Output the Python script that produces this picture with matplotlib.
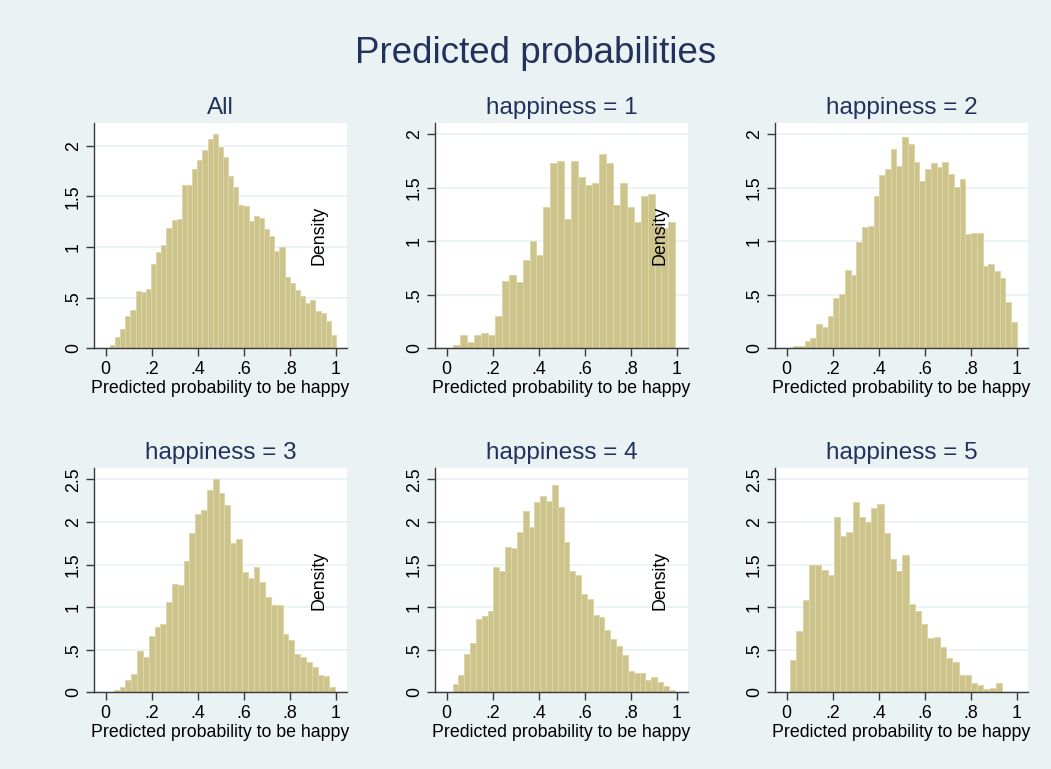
import matplotlib
matplotlib.use("Agg")
import matplotlib.pyplot as plt
import numpy as np

plt.rcParams['font.family'] = ['Liberation Sans', 'DejaVu Sans']

# density heights, left to right
h_all = [0.03, 0.11, 0.19, 0.32, 0.38, 0.57, 0.56, 0.59, 0.83, 0.95,
         1.02, 1.19, 1.27, 1.28, 1.61, 1.61, 1.77, 1.86, 1.96, 2.07,
         2.11, 1.99, 1.89, 1.70, 1.59, 1.41, 1.40, 1.26, 1.31, 1.29,
         1.18, 1.11, 0.96, 1.00, 0.70, 0.64, 0.58, 0.52, 0.45, 0.48,
         0.37, 0.35, 0.27, 0.13]
h_1 = [0.03, 0.12, 0.06, 0.12, 0.14, 0.12, 0.30, 0.63, 0.68, 0.62,
       0.82, 1.00, 0.87, 1.32, 1.73, 1.75, 1.21, 1.75, 1.60, 1.52,
       1.54, 1.81, 1.73, 1.34, 1.54, 1.32, 1.18, 1.42, 1.44, 1.15,
       1.12, 1.18]
h_2 = [0.02, 0.02, 0.07, 0.10, 0.23, 0.20, 0.30, 0.47, 0.51, 0.73,
       0.68, 0.99, 1.13, 1.14, 1.42, 1.62, 1.67, 1.86, 1.70, 1.97,
       1.91, 1.74, 1.56, 1.67, 1.73, 1.69, 1.74, 1.63, 1.51, 1.58,
       1.07, 1.08, 1.08, 0.77, 0.79, 0.72, 0.66, 0.43, 0.25]
h_3 = [0.03, 0.06, 0.15, 0.22, 0.48, 0.41, 0.66, 0.77, 0.80, 1.06,
       1.27, 1.26, 1.54, 1.87, 2.09, 2.14, 2.37, 2.50, 2.34, 2.20,
       1.75, 1.80, 1.41, 1.34, 1.47, 1.30, 1.12, 1.02, 1.02, 0.68,
       0.61, 0.45, 0.41, 0.36, 0.30, 0.20, 0.19, 0.06]
h_4 = [0.10, 0.20, 0.45, 0.58, 0.86, 0.89, 0.96, 1.47, 1.43, 1.71,
       1.70, 1.88, 2.13, 1.94, 2.23, 2.31, 2.25, 2.43, 2.18, 1.77,
       1.43, 1.38, 1.15, 1.10, 0.91, 0.88, 0.73, 0.63, 0.54, 0.44,
       0.25, 0.23, 0.23, 0.14, 0.18, 0.12, 0.07, 0.03]
h_5 = [0.38, 0.72, 1.08, 1.50, 1.49, 1.44, 1.38, 2.06, 1.84, 1.88,
       2.24, 2.06, 2.00, 2.16, 2.21, 1.87, 1.57, 1.42, 1.61, 1.04,
       0.96, 0.80, 0.64, 0.65, 0.53, 0.40, 0.36, 0.20, 0.20, 0.11,
       0.08, 0.04, 0.05, 0.11]

# range covered by the bins of each histogram
bin_lo = [0.019, 0.029, 0.029, 0.036, 0.026, 0.016]
bin_hi = [1.000, 0.993, 1.000, 0.996, 0.990, 0.936]

heights = [h_all, h_1, h_2, h_3, h_4, h_5]
titles = ['All', 'happiness = 1', 'happiness = 2',
          'happiness = 3', 'happiness = 4', 'happiness = 5']
show_density = [True, True, False, True, True, False]

xticks = [0, 0.2, 0.4, 0.6, 0.8, 1]
xtick_labels = ['0', '.2', '.4', '.6', '.8', '1']
yticks_top = [0, 0.5, 1, 1.5, 2]
yticks_bot = [0, 0.5, 1, 1.5, 2, 2.5]
ytick_labels = ['0', '.5', '1', '1.5', '2', '2.5']
ytop = [2.22, 2.10, 2.10, 2.63, 2.63, 2.63]

bg = '#EAF2F3'
navy = '#22325C'
bar_face = '#CCC48A'
bar_edge = '#DCD6AA'
axcol = '#3A3A3A'

W, H = 1051, 769
fig = plt.figure(figsize=(W / 100, H / 100), dpi=100, facecolor=bg)

lefts = [94, 435, 775]
row_top = [123.3, 468.3]
row_bot = [348.3, 692.3]
pw = 253

for i in range(6):
    r, c = divmod(i, 3)
    ax = fig.add_axes([lefts[c] / W, 1 - row_bot[r] / H, pw / W,
                       (row_bot[r] - row_top[r]) / H])
    ax.set_facecolor('white')
    h = heights[i]
    edges = np.linspace(bin_lo[i], bin_hi[i], len(h) + 1)
    ax.bar(edges[:-1], h, width=np.diff(edges), align='edge',
           color=bar_face, edgecolor=bar_edge, linewidth=0.7, zorder=2)

    ax.set_xlim(-0.05, 1.048)
    ax.set_ylim(0, ytop[i])
    ax.set_xticks(xticks)
    ax.set_xticklabels(xtick_labels)
    yt = yticks_top if r == 0 else yticks_bot
    ax.set_yticks(yt)
    ax.set_yticklabels(ytick_labels[:len(yt)], rotation=90, va='center')
    ax.yaxis.grid(True, color=bg, linewidth=1.3, zorder=0)
    ax.set_axisbelow(True)

    for s in ['top', 'right']:
        ax.spines[s].set_visible(False)
    for s in ['left', 'bottom']:
        ax.spines[s].set_color(axcol)
        ax.spines[s].set_linewidth(1.0)
    ax.tick_params(axis='both', direction='out', length=5.8, width=1.0,
                   color=axcol, labelsize=12.8, labelcolor='black')
    ax.tick_params(axis='x', pad=3.5)
    ax.tick_params(axis='y', pad=3)

    ax.set_xlabel('Predicted probability to be happy', fontsize=12.8,
                  labelpad=1)
    ax.set_title(titles[i], fontsize=17.5, color=navy, pad=6.8)
    if show_density[i]:
        ax.text(0.89, 0.5, 'Density', transform=ax.transAxes, rotation=90,
                ha='center', va='center', fontsize=12.8, zorder=5)

fig.text(536 / W, 1 - 62.7 / H, 'Predicted probabilities', ha='center',
         va='baseline', fontsize=26.5, color=navy)

fig.savefig('out.png', dpi=100, facecolor=bg)
